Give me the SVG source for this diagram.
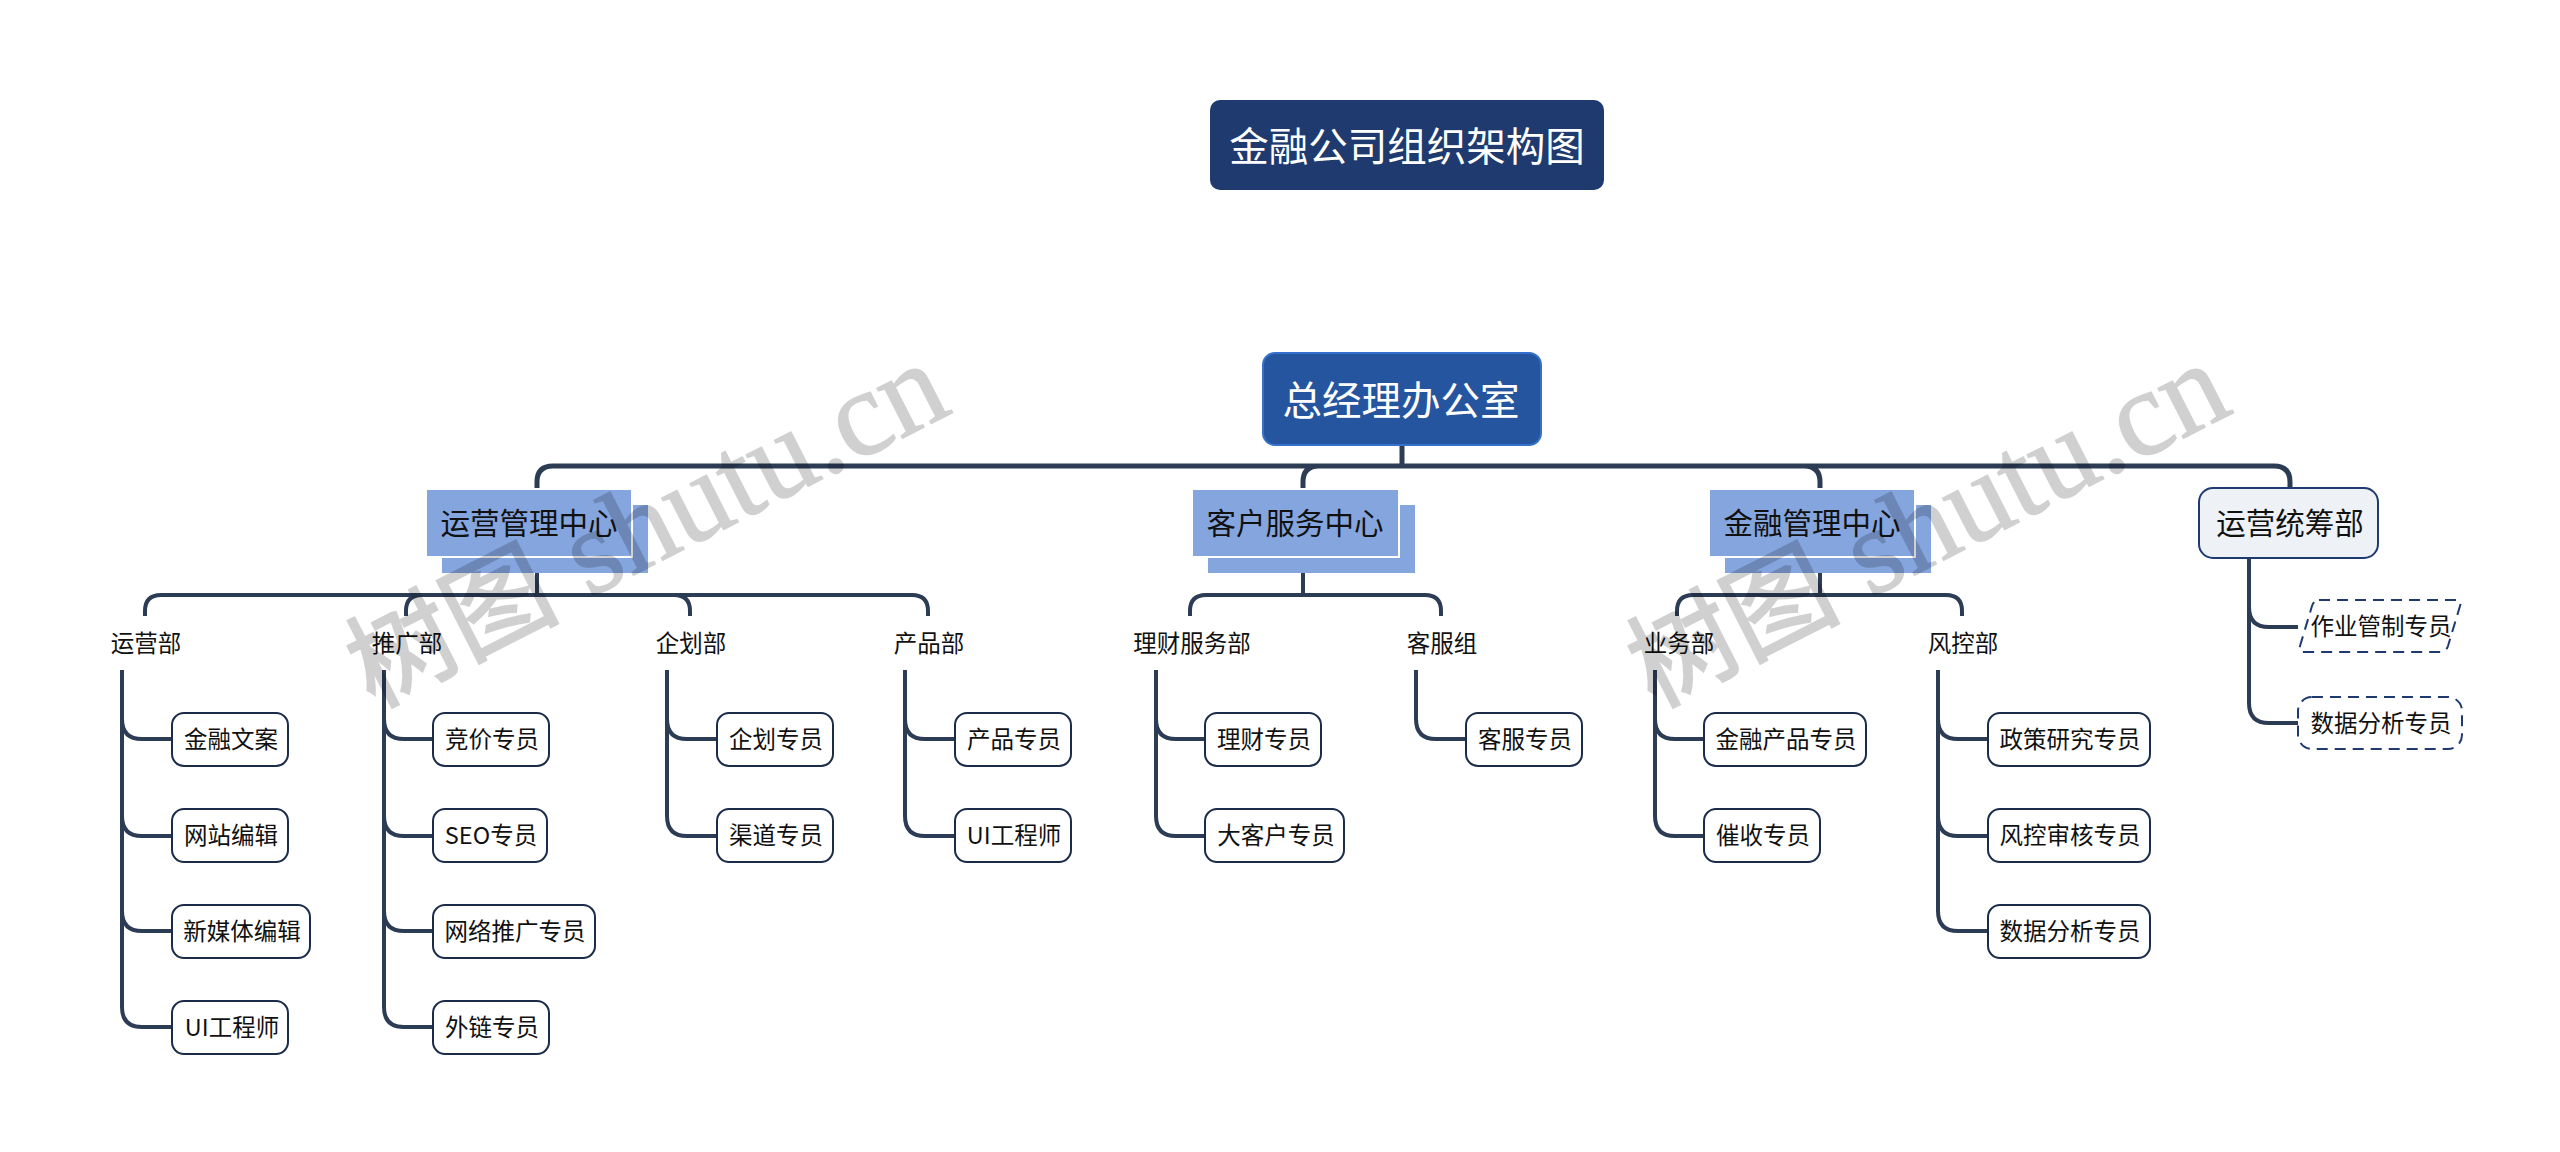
<svg xmlns="http://www.w3.org/2000/svg" width="2560" height="1152" viewBox="0 0 2560 1152">
<style>
text{font-family:"Noto Sans CJK SC","Liberation Sans",sans-serif;text-anchor:middle;dominant-baseline:central;fill:#111}
.t40{font-size:39.5px;fill:#fff}
.t30{font-size:29.5px}
.t24{font-size:23.5px}
.leaf{fill:#fff;stroke:#1b2c4a;stroke-width:2}
.dash{fill:#fff;stroke:#1f3a6e;stroke-width:2;stroke-dasharray:11 7}
.front{fill:#85a5de;stroke:#fff;stroke-width:2}
.back{fill:#85a5de}
.c1{fill:none;stroke:#2c3c55;stroke-width:5}
.c2{fill:none;stroke:#2c3c55;stroke-width:4}
.wm{font-family:"Liberation Serif","Noto Sans CJK SC",serif;font-size:122px;fill:#000;stroke:#000;stroke-width:1.5;opacity:.18;text-anchor:start;dominant-baseline:auto}
.wm .cjk{font-size:106px;stroke-width:2.5}
</style>
<rect width="2560" height="1152" fill="#fff"/>
<g id="connectors">
<path class="c1" d="M1402 446V466M537 489V482Q537 466 553 466H2274Q2290 466 2290 482V489M1303 489V482Q1303 466 1319 466M1804 466Q1820 466 1820 482V489"/>
<path class="c2" d="M537 573V595M1303 573V595M1820 573V595"/>
<path class="c2" d="M145 616V611Q145 595 161 595H912Q928 595 928 611V616M406 616V611Q406 595 422 595M674 595Q690 595 690 611V616"/>
<path class="c2" d="M1190 616V611Q1190 595 1206 595H1425Q1441 595 1441 611V616"/>
<path class="c2" d="M1677 616V611Q1677 595 1693 595H1946Q1962 595 1962 611V616"/>
<path class="c2" d="M122 670V719Q122 739 142 739H171M122 670V816Q122 836 142 836H171M122 670V911Q122 931 142 931H171M122 670V1007Q122 1027 142 1027H171"/>
<path class="c2" d="M384 670V719Q384 739 404 739H433M384 670V816Q384 836 404 836H433M384 670V911Q384 931 404 931H433M384 670V1007Q384 1027 404 1027H433"/>
<path class="c2" d="M667 670V719Q667 739 687 739H717M667 670V816Q667 836 687 836H717"/>
<path class="c2" d="M905 670V719Q905 739 925 739H955M905 670V816Q905 836 925 836H955"/>
<path class="c2" d="M1156 670V719Q1156 739 1176 739H1205M1156 670V816Q1156 836 1176 836H1205"/>
<path class="c2" d="M1416 670V719Q1416 739 1436 739H1466"/>
<path class="c2" d="M1655 670V719Q1655 739 1675 739H1704M1655 670V816Q1655 836 1675 836H1704"/>
<path class="c2" d="M1938 670V719Q1938 739 1958 739H1988M1938 670V816Q1938 836 1958 836H1988M1938 670V911Q1938 931 1958 931H1988"/>
<path class="c2" d="M2249 558V607Q2249 627 2269 627H2298M2249 558V703Q2249 723 2269 723H2298"/>
</g>
<g id="n-title"><rect x="1210" y="100" width="394" height="90" rx="10" fill="#1f3a6e"/><text class="t40" x="1407" y="143">金融公司组织架构图</text></g>
<g id="n-root"><rect x="1263" y="353" width="278" height="92" rx="12" fill="#2655a0" stroke="#3470cc" stroke-width="2"/><text class="t40" x="1401" y="397">总经理办公室</text></g>
<g id="n-yy"><rect class="back" x="442" y="505" width="206" height="68"/><rect class="front" x="426" y="489" width="206" height="68"/><text class="t30" x="529" y="521">运营管理中心</text></g>
<g id="n-kh"><rect class="back" x="1208" y="505" width="207" height="68"/><rect class="front" x="1192" y="489" width="207" height="68"/><text class="t30" x="1295" y="521">客户服务中心</text></g>
<g id="n-jr"><rect class="back" x="1725" y="505" width="206" height="68"/><rect class="front" x="1709" y="489" width="206" height="68"/><text class="t30" x="1812" y="521">金融管理中心</text></g>
<g id="n-tc"><rect x="2199" y="488" width="179" height="70" rx="14" fill="#eef1f6" stroke="#1f3a6e" stroke-width="2"/><text class="t30" x="2290" y="521">运营统筹部</text></g>
<g id="n-d1"><text class="t24" x="146" y="642">运营部</text></g>
<g id="n-d2"><text class="t24" x="407" y="642">推广部</text></g>
<g id="n-d3"><text class="t24" x="691" y="642">企划部</text></g>
<g id="n-d4"><text class="t24" x="929" y="642">产品部</text></g>
<g id="n-d5"><text class="t24" x="1192" y="642">理财服务部</text></g>
<g id="n-d6"><text class="t24" x="1442" y="642">客服组</text></g>
<g id="n-d7"><text class="t24" x="1679" y="642">业务部</text></g>
<g id="n-d8"><text class="t24" x="1963" y="642">风控部</text></g>
<g id="l1"><rect class="leaf" x="172" y="713" width="116" height="53" rx="12"/><text class="t24" x="231" y="738">金融文案</text></g>
<g id="l2"><rect class="leaf" x="172" y="809" width="116" height="53" rx="12"/><text class="t24" x="231" y="834">网站编辑</text></g>
<g id="l3"><rect class="leaf" x="172" y="905" width="138" height="53" rx="12"/><text class="t24" x="242" y="930">新媒体编辑</text></g>
<g id="l4"><rect class="leaf" x="172" y="1001" width="116" height="53" rx="12"/><text class="t24" x="232" y="1026">UI工程师</text></g>
<g id="l5"><rect class="leaf" x="433" y="713" width="116" height="53" rx="12"/><text class="t24" x="492" y="738">竞价专员</text></g>
<g id="l6"><rect class="leaf" x="433" y="809" width="114" height="53" rx="12"/><text class="t24" x="491" y="834">SEO专员</text></g>
<g id="l7"><rect class="leaf" x="433" y="905" width="162" height="53" rx="12"/><text class="t24" x="515" y="930">网络推广专员</text></g>
<g id="l8"><rect class="leaf" x="433" y="1001" width="116" height="53" rx="12"/><text class="t24" x="492" y="1026">外链专员</text></g>
<g id="l9"><rect class="leaf" x="717" y="713" width="116" height="53" rx="12"/><text class="t24" x="776" y="738">企划专员</text></g>
<g id="l10"><rect class="leaf" x="717" y="809" width="116" height="53" rx="12"/><text class="t24" x="776" y="834">渠道专员</text></g>
<g id="l11"><rect class="leaf" x="955" y="713" width="116" height="53" rx="12"/><text class="t24" x="1014" y="738">产品专员</text></g>
<g id="l12"><rect class="leaf" x="955" y="809" width="116" height="53" rx="12"/><text class="t24" x="1014" y="834">UI工程师</text></g>
<g id="l13"><rect class="leaf" x="1205" y="713" width="116" height="53" rx="12"/><text class="t24" x="1264" y="738">理财专员</text></g>
<g id="l14"><rect class="leaf" x="1205" y="809" width="139" height="53" rx="12"/><text class="t24" x="1276" y="834">大客户专员</text></g>
<g id="l15"><rect class="leaf" x="1466" y="713" width="116" height="53" rx="12"/><text class="t24" x="1525" y="738">客服专员</text></g>
<g id="l16"><rect class="leaf" x="1704" y="713" width="162" height="53" rx="12"/><text class="t24" x="1786" y="738">金融产品专员</text></g>
<g id="l17"><rect class="leaf" x="1704" y="809" width="116" height="53" rx="12"/><text class="t24" x="1763" y="834">催收专员</text></g>
<g id="l18"><rect class="leaf" x="1988" y="713" width="162" height="53" rx="12"/><text class="t24" x="2070" y="738">政策研究专员</text></g>
<g id="l19"><rect class="leaf" x="1988" y="809" width="162" height="53" rx="12"/><text class="t24" x="2070" y="834">风控审核专员</text></g>
<g id="l20"><rect class="leaf" x="1988" y="905" width="162" height="53" rx="12"/><text class="t24" x="2070" y="930">数据分析专员</text></g>
<g id="l21"><path class="dash" d="M2319 600H2456Q2462 600 2460 606L2448 646Q2446 652 2440 652H2304Q2298 652 2300 646L2312 606Q2314 600 2319 600Z"/><text class="t24" x="2381" y="625">作业管制专员</text></g>
<g id="l22"><rect class="dash" x="2298" y="697" width="164" height="52" rx="14"/><text class="t24" x="2381" y="722">数据分析专员</text></g>
<g id="watermark">
<text class="wm" transform="translate(373 708) rotate(-27)"><tspan class="cjk">树图</tspan> shutu.cn</text>
<text class="wm" transform="translate(1654 708) rotate(-27)"><tspan class="cjk">树图</tspan> shutu.cn</text>
</g>
</svg>
